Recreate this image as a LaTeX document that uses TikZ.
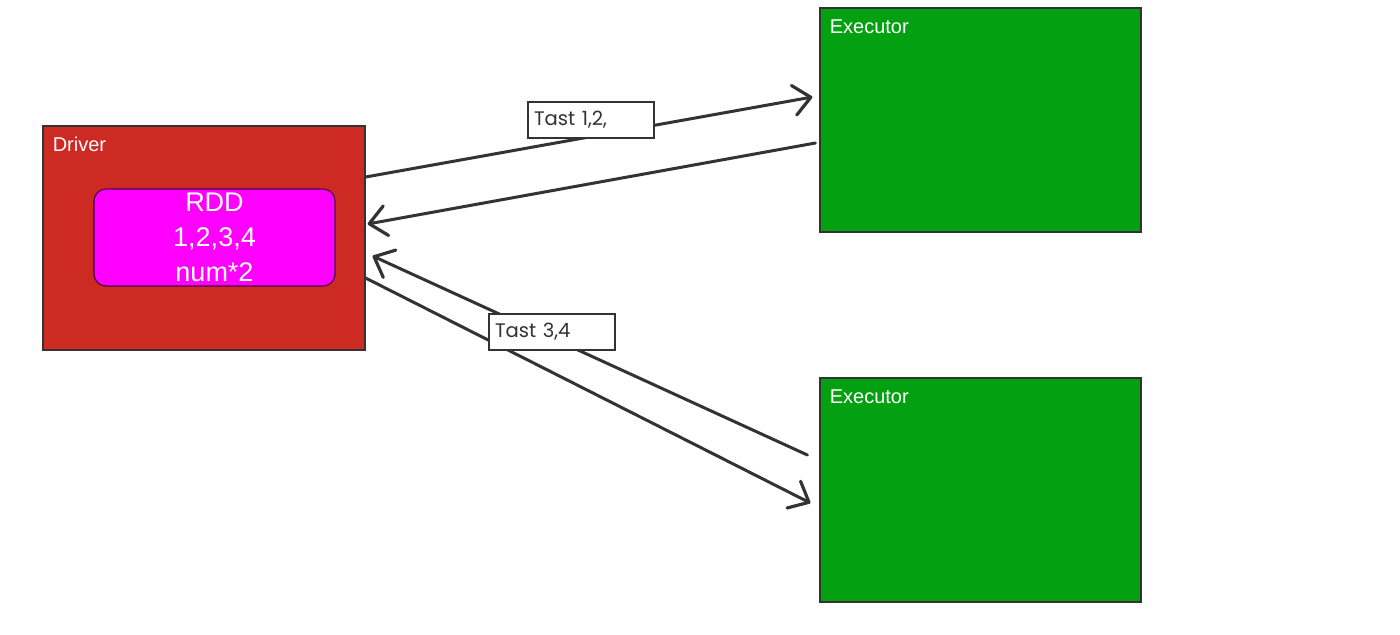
\documentclass[tikz,border=0pt]{standalone}
\usepackage{fontspec}
\setmainfont{Liberation Sans}
\newfontfamily\tastfont{Poppins}
\usetikzlibrary{arrows.meta}

\definecolor{drvred}{HTML}{CD2A24}
\definecolor{execgreen}{HTML}{03A012}
\definecolor{rddpink}{HTML}{FF00FF}
\definecolor{linegray}{HTML}{333333}

\begin{document}
\begin{tikzpicture}[x=0.5pt, y=-0.5pt,
  drvbox/.style={draw=linegray, line width=0.6pt, fill=drvred,
                 minimum width=161pt, minimum height=112pt},
  execbox/.style={draw=linegray, line width=0.6pt, fill=execgreen,
                  minimum width=160.5pt, minimum height=112pt},
  rddbox/.style={draw=black!70!rddpink, line width=0.6pt, fill=rddpink, rounded corners=6pt,
                 minimum width=120.5pt, minimum height=48.5pt, text=white,
                 font=\fontsize{13.5}{17.5}\selectfont, align=center, inner sep=0pt},
  titletext/.style={anchor=base west, inner sep=0pt, text=white, font=\fontsize{10}{12}\selectfont},
  tastbox/.style={draw=linegray, line width=0.6pt, fill=white, minimum width=63pt,
                  minimum height=18pt, text width=57pt, align=left, inner sep=3pt,
                  text=linegray, font=\tastfont\fontsize{9.8}{11}\selectfont},
  flow/.style={draw=linegray, line width=1.5pt, line cap=round,
               -{Straight Barb[length=8.5pt, width=15pt, line width=1.6pt, round]}},
]
  \useasboundingbox (0,0) rectangle (1400,634);

  % Driver
  \node[drvbox] (driver) at (204,238) {};
  \node[titletext] (drvtitle) at ([xshift=5pt, yshift=-13pt]driver.north west) {Driver};
  \node[rddbox] (rdd) at (214.5,237.5) {RDD\\1,2,3,4\\num*2};

  % Executors
  \node[execbox] (exec1) at (980.5,120) {};
  \node[execbox] (exec2) at (980.5,490) {};
  \node[titletext] (exectitle1) at ([xshift=5pt, yshift=-13pt]exec1.north west) {Executor};
  \node[titletext] (exectitle2) at ([xshift=5pt, yshift=-13pt]exec2.north west) {Executor};

  % Arrows
  \draw[flow] ([yshift=30.5pt]driver.east) -- ([xshift=-3.5pt, yshift=11.5pt]exec1.west);
  \draw[flow] ([xshift=-2pt, yshift=-11.5pt]exec1.west) -- ([xshift=1pt, yshift=7pt]driver.east);
  \draw[flow] ([xshift=-6pt, yshift=17.5pt]exec2.west) -- ([xshift=3.5pt, yshift=-9pt]driver.east);
  \draw[flow] ([yshift=-20pt]driver.east) -- ([xshift=-4.5pt, yshift=-6.5pt]exec2.west);

  % Labels
  \node[tastbox] (tast12) at (591,120) {Tast 1,2,};
  \node[tastbox] (tast34) at (552,332) {Tast 3,4};
\end{tikzpicture}
\end{document}
